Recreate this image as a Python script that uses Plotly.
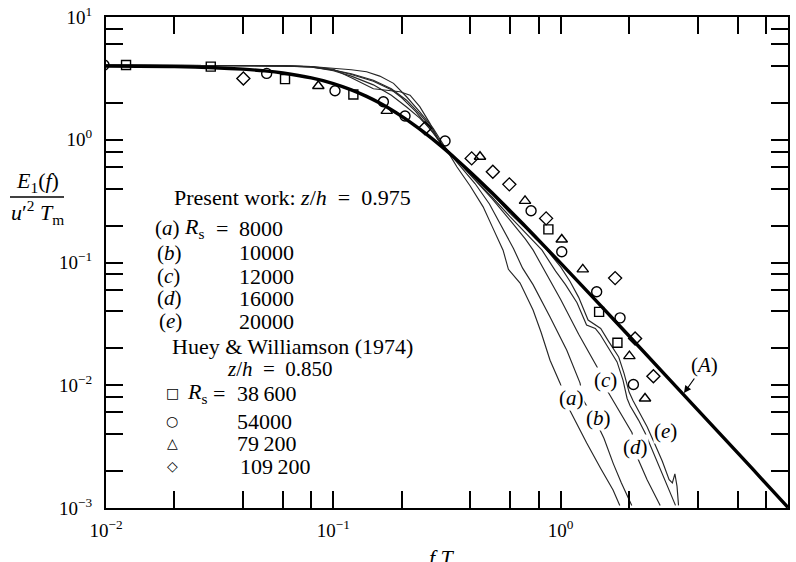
import plotly.graph_objects as go

# ---------------- data ----------------
# Curve (A): thick reference spectrum
A_x = [0.01, 0.02, 0.03, 0.04, 0.05, 0.06, 0.08, 0.1, 0.12, 0.14, 0.16, 0.18, 0.2, 0.22, 0.25,
       0.3, 0.35, 0.4, 0.45, 0.5, 0.6, 0.7, 0.8, 1.0, 1.5, 2.0, 3.0, 5.0, 7.0, 10.0]
A_y = [3.98, 3.94, 3.86, 3.76, 3.64, 3.50, 3.19, 2.87, 2.55, 2.255, 1.99, 1.755, 1.55, 1.374, 1.154,
       0.879, 0.685, 0.547, 0.445, 0.368, 0.263, 0.197, 0.152, 0.0988, 0.0445, 0.0252, 0.0112,
       0.00405, 0.00207, 0.00101]

# Present work, curves (a)-(e)
a_x = [0.01, 0.03, 0.06, 0.08, 0.1, 0.12, 0.14, 0.16, 0.184, 0.21, 0.24, 0.275, 0.316, 0.35, 0.4,
       0.456, 0.5, 0.558, 0.589, 0.663, 0.756, 0.82, 0.898, 0.994, 1.1, 1.2, 1.3, 1.5, 1.7, 1.82]
a_y = [4.06, 4.05, 4.0, 3.95, 3.85, 3.72, 3.58, 3.3, 2.88, 2.24, 1.69, 1.24, 0.82, 0.6, 0.42,
       0.284, 0.196, 0.126, 0.088, 0.068, 0.041, 0.027, 0.016, 0.0104, 0.0062, 0.0045, 0.0034,
       0.0021, 0.0014, 0.00105]

b_x = [0.01, 0.03, 0.06, 0.08, 0.1, 0.12, 0.15, 0.1965, 0.2175, 0.24, 0.266, 0.295, 0.33, 0.37,
       0.42, 0.486, 0.556, 0.62, 0.68, 0.756, 0.898, 1.064, 1.217, 1.255, 1.441, 1.55, 1.704,
       1.85, 2.055]
b_y = [4.06, 4.05, 4.0, 3.95, 3.75, 3.2, 2.6, 2.46, 2.31, 1.86, 1.36, 0.95, 0.74, 0.58,
       0.44, 0.30, 0.19, 0.13, 0.09, 0.066, 0.036, 0.0193, 0.0104, 0.0076, 0.0049, 0.0037, 0.0023,
       0.0016, 0.00105]

c_x = [0.01, 0.03, 0.06, 0.08, 0.1, 0.12, 0.15, 0.18, 0.2, 0.23, 0.26, 0.3, 0.35, 0.4, 0.5,
       0.6, 0.7, 0.757, 0.85, 1.0, 1.2, 1.446, 1.616, 1.8, 2.06, 2.17, 2.4, 2.74]
c_y = [4.06, 4.05, 4.0, 3.9, 3.7, 3.4, 3.0, 2.55, 2.2, 1.7, 1.3, 0.93, 0.68, 0.52, 0.33,
       0.22, 0.155, 0.126, 0.085, 0.05, 0.026, 0.0141, 0.0088, 0.0062, 0.0041, 0.0026, 0.0017,
       0.00105]

d_x = [0.01, 0.03, 0.06, 0.08, 0.1, 0.12, 0.15, 0.18, 0.21, 0.24, 0.27, 0.3, 0.35, 0.4, 0.5,
       0.6, 0.7, 0.828, 0.95, 1.05, 1.18, 1.3, 1.42, 1.49, 1.6, 1.77, 1.88, 1.96, 2.02, 2.2,
       2.35, 2.52, 2.74, 3.0, 3.2]
d_y = [4.06, 4.05, 4.0, 3.92, 3.65, 3.3, 2.8, 2.3, 1.85, 1.5, 1.2, 0.9, 0.68, 0.52, 0.34,
       0.235, 0.175, 0.126, 0.085, 0.066, 0.047, 0.031, 0.029, 0.026, 0.021, 0.0155, 0.011,
       0.0078, 0.0068, 0.0052, 0.0041, 0.003, 0.0021, 0.0014, 0.00105]

e_x = [0.01, 0.03, 0.06, 0.08, 0.1, 0.12, 0.15, 0.18, 0.21, 0.24, 0.27, 0.3, 0.35, 0.4, 0.5,
       0.6, 0.7, 0.871, 1.0, 1.1, 1.2, 1.32, 1.42, 1.5, 1.62, 1.8, 1.9, 2.0, 2.08, 2.25, 2.4,
       2.58, 2.8, 3.0, 3.1, 3.18, 3.25, 3.3]
e_y = [4.06, 4.05, 4.0, 3.93, 3.7, 3.45, 3.05, 2.6, 2.1, 1.62, 1.25, 0.9, 0.69, 0.53, 0.36,
       0.25, 0.19, 0.126, 0.092, 0.07, 0.052, 0.034, 0.031, 0.029, 0.023, 0.017, 0.0125,
       0.0088, 0.0075, 0.0058, 0.0046, 0.0034, 0.0024, 0.0017, 0.0016, 0.0019, 0.0015, 0.00105]

# Huey & Williamson (1974)
sq_x = [0.01225, 0.0289, 0.0613, 0.1225, 0.883, 1.476, 1.777]
sq_y = [4.06, 3.94, 3.12, 2.34, 0.186, 0.0396, 0.0222]
ci_x = [0.0098, 0.0509, 0.1017, 0.166, 0.2067, 0.31, 0.741, 1.011, 1.44, 1.825, 2.089]
ci_y = [4.06, 3.47, 2.51, 2.04, 1.56, 0.976, 0.264, 0.1223, 0.0577, 0.0354, 0.01015]
tr_x = [0.0859, 0.1718, 0.4418, 0.697, 1.011, 1.251, 2.006, 2.35]
tr_y = [2.74, 1.72, 0.727, 0.318, 0.154, 0.0879, 0.01726, 0.0078]
di_x = [0.0402, 0.253, 0.406, 0.503, 0.5946, 0.863, 1.736, 2.125, 2.558]
di_y = [3.16, 1.24, 0.705, 0.548, 0.433, 0.2288, 0.0746, 0.024, 0.01186]

# ticks
x_major = [0.01, 0.1, 1, 10]
x_minor = [0.02, 0.04, 0.06, 0.08, 0.2, 0.4, 0.6, 0.8, 2, 4, 6, 8]
y_major = [0.001, 0.01, 0.1, 1, 10]
y_minor = [0.002, 0.004, 0.006, 0.008, 0.02, 0.04, 0.06, 0.08, 0.2, 0.4, 0.6, 0.8, 2, 4, 6, 8]
decade_labels = {0.001: "10<sup>\u22123</sup>", 0.01: "10<sup>\u22122</sup>", 0.1: "10<sup>\u22121</sup>",
                 1: "10<sup>0</sup>", 10: "10<sup>1</sup>"}

# ---------------- figure ----------------
SERIF = "Liberation Serif, Times New Roman, serif"
W, H = 796, 562
L, R, T, B = 106, 8, 17, 54
PW, PH = W - L - R, H - T - B


def paper(px, py):
    return (px - L) / PW, (T + PH - py) / PH


fig = go.Figure()

thin = dict(color="#262626", width=1.15)
for xs, ys in [(a_x, a_y), (b_x, b_y), (c_x, c_y), (d_x, d_y), (e_x, e_y)]:
    fig.add_trace(go.Scatter(x=xs, y=ys, mode="lines", line=thin, hoverinfo="skip"))

fig.add_trace(go.Scatter(x=A_x, y=A_y, mode="lines", line=dict(color="black", width=3.4),
                         line_shape="spline"))

for xs, ys, sym, sz in [(sq_x, sq_y, "square-open", 9), (ci_x, ci_y, "circle-open", 10),
                        (tr_x, tr_y, "triangle-up-open", 10), (di_x, di_y, "diamond-open", 10)]:
    fig.add_trace(go.Scatter(x=xs, y=ys, mode="markers",
                             marker=dict(symbol=sym, size=sz, color="black",
                                         line=dict(color="black", width=1.4))))

axis_common = dict(type="log", showgrid=False, zeroline=False, showline=True, linecolor="black",
                   linewidth=2, ticks="inside", ticklen=17, tickwidth=1.6, tickcolor="black",
                   mirror="ticks", tickmode="array",
                   tickfont=dict(family=SERIF, size=19, color="black"), automargin=False)
minor_common = dict(ticks="inside", ticklen=17, tickwidth=1.6, tickcolor="black", showgrid=False,
                    tickmode="array")

fig.update_xaxes(range=[-2, 1], tickvals=x_major, ticktext=[decade_labels[v] for v in x_major],
                 minor=dict(tickvals=x_minor, **minor_common),
                 ticklabelstandoff=4, **axis_common)
fig.update_yaxes(range=[-3, 1], tickvals=y_major, ticktext=[decade_labels[v] for v in y_major],
                 minor=dict(tickvals=y_minor, **minor_common),
                 ticklabelstandoff=8, **axis_common)

ann = []
FS = 22


def text(px, py, s, size=FS, anchor="left", bg=None):
    x, y = paper(px, py)
    d = dict(x=x, y=y, xref="paper", yref="paper", text=s, showarrow=False,
             xanchor=anchor, yanchor="middle", font=dict(family=SERIF, size=size, color="black"))
    if bg:
        d["bgcolor"] = bg
        d["borderpad"] = 0
    ann.append(d)


NB = "\u00a0"
text(172, 198, "Present work: <i>z</i>/<i>h</i>" + NB + " =" + NB + " 0.975")
rows = [("(<i>a</i>)", 153, 228, "8000"), ("(<i>b</i>)", 155, 253, "10000"),
        ("(<i>c</i>)", 155, 276, "12000"), ("(<i>d</i>)", 155, 298, "16000"),
        ("(<i>e</i>)", 157, 321, "20000")]
for lab, px, py, val in rows:
    text(px, py, lab, 21)
    text(237, py, val)
text(182, 228, "<i>R</i><sub>s</sub>")
text(214, 228, "=")

text(170, 346, "Huey &amp; Williamson (1974)")
text(225, 369, "<i>z</i>/<i>h</i>" + NB + " =" + NB + " 0.850", 21)
sym_rows = [("\u25a1", 393, "38\u2009600", 235), ("\u25cb", 421, "54000", 235),
            ("\u25b3", 443, "79\u2009200", 235), ("\u25c7", 466, "109\u2009200", 238)]
for g, py, val, vx in sym_rows:
    x, y = paper(172, py)
    ann.append(dict(x=x, y=y, xref="paper", yref="paper", text=g, showarrow=False,
                    xanchor="center", yanchor="middle",
                    font=dict(family="DejaVu Sans", size=14, color="black")))
    text(vx, py, val)
text(185, 393, "<i>R</i><sub>s</sub>")
text(211, 393, "=")

# curve labels (white background produces the gaps in the lines)
for lab, px, py in [("(<i>a</i>)", 571, 398), ("(<i>b</i>)", 598, 418), ("(<i>c</i>)", 605, 380),
                    ("(<i>d</i>)", 635, 447), ("(<i>e</i>)", 665, 431)]:
    text(px, py, lab, 21, anchor="center", bg="white")

# (A) label with arrow
hx, hy = paper(684, 393)
ann.append(dict(x=hx, y=hy, xref="paper", yref="paper", text="(<i>A</i>)", showarrow=True,
                arrowhead=2, arrowsize=1.2, arrowwidth=1.2, arrowcolor="black",
                ax=20, ay=-28, xanchor="center", yanchor="middle",
                font=dict(family=SERIF, size=21, color="black")))

# axis titles
text(37, 182, "<i>E</i><sub>1</sub>(<i>f</i>)", 22, anchor="center")
text(37, 212, "<i>u</i>\u2032<sup>2</sup> <i>T</i><sub>m</sub>", 22, anchor="center")
text(447, 559, "<i>f T</i><sub>m</sub>", 22, anchor="center")

x0, y0 = paper(10, 197)
x1, _ = paper(64, 197)
shapes = [dict(type="line", xref="paper", yref="paper", x0=x0, x1=x1, y0=y0, y1=y0,
               line=dict(color="black", width=1.3))]

fig.update_layout(width=W, height=H, margin=dict(l=L, r=R, t=T, b=B, autoexpand=False),
                  paper_bgcolor="white", plot_bgcolor="white", showlegend=False,
                  annotations=ann, shapes=shapes)

fig.write_html("out.html")
